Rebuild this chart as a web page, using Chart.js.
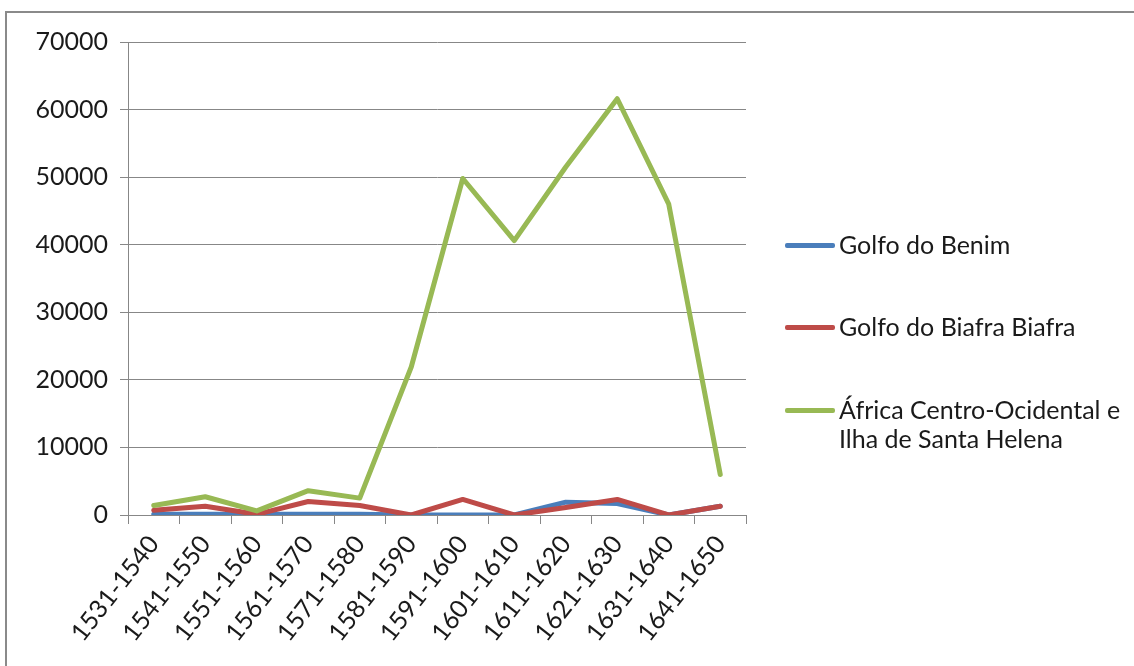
<!DOCTYPE html>
<html>
<head>
<meta charset="utf-8">
<script src="https://cdn.jsdelivr.net/npm/chart.js@4"></script>
<style>
  html, body { margin: 0; padding: 0; background: #fff; }
  #wrap { position: relative; width: 1134px; height: 666px; overflow: hidden; font-family: Lato, sans-serif; }
  #frame { position: absolute; left: 5px; top: 11px; width: 1200px; height: 700px; border: 2px solid #8a8a8a; box-sizing: border-box; }
  canvas { position: absolute; left: 0; top: 0; }
  #legend { position: absolute; left: 785px; top: 0; }
  .item { position: absolute; left: 0; width: 340px; font-size: 25px; line-height: 29px; color: #1a1a1a; }
  .swatch { position: absolute; left: 0; top: 13px; width: 50px; height: 5px; border-radius: 2px; }
  .label { position: absolute; left: 54px; top: 0; white-space: nowrap; }
</style>
</head>
<body>
<div id="wrap">
  <div id="frame"></div>
  <canvas id="chart" width="1134" height="666"></canvas>
  <div id="legend"></div>
</div>
<script>
// decades on the x axis
var periods = ['1531-1540', '1541-1550', '1551-1560', '1561-1570', '1571-1580', '1581-1590',
               '1591-1600', '1601-1610', '1611-1620', '1621-1630', '1631-1640', '1641-1650'];

// values
var benim = [100, 100, 100, 100, 100, 0, 0, 0, 1900, 1700, 0, 1300];
var biafra = [700, 1300, 100, 2000, 1400, 0, 2300, 0, 1100, 2300, 0, 1300];
var africaCentro = [1400, 2700, 600, 3600, 2500, 21900, 49800, 40600, 51500, 61600, 46000, 6000];

var seriesNames = ['Golfo do Benim', 'Golfo do Biafra Biafra', 'África Centro-Ocidental e\nIlha de Santa Helena'];
var seriesColors = ['#4a7ebb', '#be4b48', '#98b954'];

var yTicks = [0, 10000, 20000, 30000, 40000, 50000, 60000, 70000];

var allSeries = [benim, biafra, africaCentro];
var datasets = allSeries.map(function (vals, i) {
    return {
        label: seriesNames[i],
        data: vals,
        borderColor: seriesColors[i],
        backgroundColor: seriesColors[i],
        borderWidth: 5,
        pointRadius: 0,
        tension: 0,
        borderJoinStyle: 'round',
        borderCapStyle: 'round',
        order: 3 - i   // later series drawn on top, like the original
    };
});

var gridColor = '#878787';
var tickFont = { family: 'Lato', size: 25 };

var ctx = document.getElementById('chart').getContext('2d');
var chart = new Chart(ctx, {
    type: 'line',
    data: { labels: periods, datasets: datasets },
    options: {
        responsive: false,
        animation: false,
        layout: { padding: { left: 0, top: 42, right: 388, bottom: 0 } },
        plugins: { legend: { display: false }, tooltip: { enabled: false } },
        scales: {
            x: {
                offset: true,
                grid: { offset: true, drawOnChartArea: false, color: gridColor, tickLength: 9 },
                border: { color: gridColor, width: 1 },
                ticks: { font: tickFont, color: '#1a1a1a', minRotation: 52, maxRotation: 52, padding: 6, autoSkip: false },
                afterFit: function (scale) { scale.height = 666 - 515; }
            },
            y: {
                min: 0,
                max: 70000,
                afterBuildTicks: function (scale) {
                    scale.ticks = yTicks.map(function (v) { return { value: v }; });
                },
                grid: { color: gridColor, tickLength: 8 },
                border: { color: gridColor, width: 1 },
                ticks: {
                    font: tickFont, color: '#1a1a1a', padding: 12,
                    callback: function (v) { return String(v); }
                },
                afterFit: function (scale) { scale.width = 128; }
            }
        }
    }
});

// html legend, built from the same names and colours
var legendTops = [230, 312, 395];
var legend = document.getElementById('legend');
seriesNames.forEach(function (name, i) {
    var item = document.createElement('div');
    item.className = 'item';
    item.style.top = legendTops[i] + 'px';
    var sw = document.createElement('div');
    sw.className = 'swatch';
    sw.style.background = seriesColors[i];
    var lab = document.createElement('div');
    lab.className = 'label';
    lab.innerHTML = name.split('\n').join('<br>');
    item.appendChild(sw);
    item.appendChild(lab);
    legend.appendChild(item);
});
</script>
</body>
</html>
